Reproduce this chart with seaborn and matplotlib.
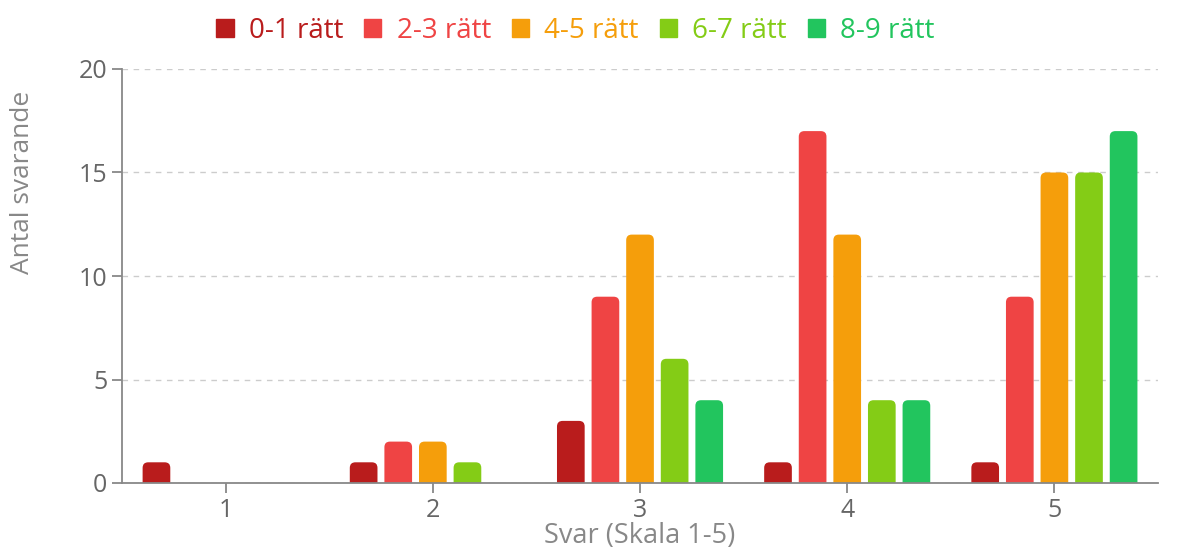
import matplotlib
matplotlib.use("Agg")
import matplotlib.pyplot as plt
import pandas as pd
import seaborn as sns
from matplotlib.patches import FancyBboxPatch

# data
answers = ["1", "2", "3", "4", "5"]
groups = ["0-1 rätt", "2-3 rätt", "4-5 rätt", "6-7 rätt", "8-9 rätt"]
counts_01 = [1, 1, 3, 1, 1]
counts_23 = [0, 2, 9, 17, 9]
counts_45 = [0, 2, 12, 12, 15]
counts_67 = [0, 1, 6, 4, 15]
counts_89 = [0, 0, 4, 4, 17]
colors = ["#b91c1c", "#ef4444", "#f59e0b", "#84cc16", "#22c55e"]

series = [counts_01, counts_23, counts_45, counts_67, counts_89]
df = pd.DataFrame(
    [(a, g, v) for g, vals in zip(groups, series) for a, v in zip(answers, vals)],
    columns=["svar", "grupp", "antal"],
)

sns.set_theme(style="white")
plt.rcParams["font.family"] = ["Open Sans", "DejaVu Sans"]
grey = "#666666"

fig = plt.figure(figsize=(11.99, 5.52), dpi=100)
ax = fig.add_axes([0.1018, 0.125, 0.864, 0.75])

sns.barplot(data=df, x="svar", y="antal", hue="grupp", palette=colors,
            width=0.835, gap=0.2, saturation=1, legend=False, ax=ax)
ax.set_xlim(-0.5, 4.5)
ax.set_ylim(0, 20)

# swap the plain bars for ones with rounded top corners
aspect = (20 / 414) / (5 / 1036)
for p in list(ax.patches):
    x, y = p.get_xy()
    w, h = p.get_width(), p.get_height()
    if h <= 0:
        p.remove()
        continue
    r = FancyBboxPatch((x, y - 0.5), w, h + 0.5,
                       boxstyle="round,pad=0,rounding_size=0.027",
                       mutation_aspect=aspect, facecolor=p.get_facecolor(),
                       edgecolor="none", zorder=2)
    p.remove()
    ax.add_patch(r)

ax.set_yticks([0, 5, 10, 15, 20])
ax.yaxis.grid(True, linestyle=(0, (4, 4)), color="#cccccc", linewidth=1)
ax.set_axisbelow(True)
for s in ["top", "right"]:
    ax.spines[s].set_visible(False)
for s in ["left", "bottom"]:
    ax.spines[s].set_color("#888888")
    ax.spines[s].set_linewidth(1.3)
    ax.spines[s].set_zorder(3)
ax.tick_params(axis="both", colors="#888888", labelcolor=grey, labelsize=18,
               length=7, width=1.3, direction="out", left=True, bottom=True)
ax.set_ylabel("Antal svarande", fontsize=19, color="#888888")
ax.yaxis.set_label_coords(-0.084, 0.725)
ax.set_xlabel("Svar (Skala 1-5)", fontsize=19.5, color="#888888")
ax.xaxis.set_label_coords(0.5, -0.093)

handles = [plt.Rectangle((0, 0), 1, 1, color=c) for c in colors]
leg = fig.legend(handles, groups, loc="center", bbox_to_anchor=(0.48, 0.944),
                 ncol=5, frameon=False, fontsize=20, handlelength=0.62,
                 handleheight=0.62, handletextpad=0.55, columnspacing=0.75,
                 borderpad=0)
for t, c in zip(leg.get_texts(), colors):
    t.set_color(c)

fig.savefig("out.png", dpi=100)
